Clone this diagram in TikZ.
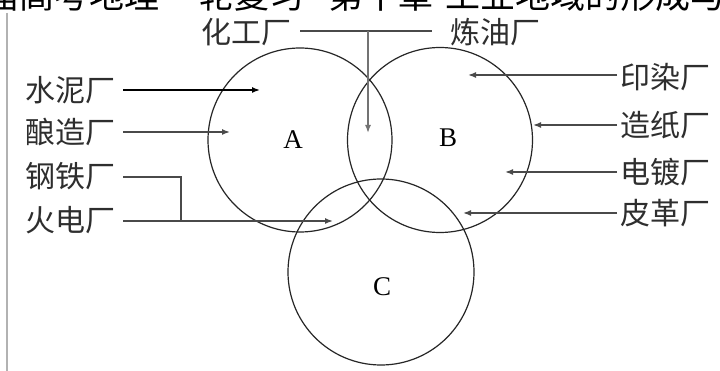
\documentclass[tikz,border=0pt]{standalone}
\usepackage{fontspec}
\setmainfont{Liberation Serif}
\newfontfamily\cjk{Noto Sans CJK SC}
\usetikzlibrary{arrows.meta}
\definecolor{txt}{HTML}{2E2E2E}
\definecolor{ln}{HTML}{4A4A4A}
\begin{document}
\begin{tikzpicture}[x=1pt,y=-1pt,
  lab/.style={inner sep=0pt,text=txt,font=\cjk\fontsize{30}{30}\selectfont},
  hdr/.style={inner sep=0pt,anchor=base west,text=black,font=\cjk\fontsize{35}{35}\selectfont},
  letter/.style={inner sep=0pt,font=\fontsize{27}{27}\selectfont},
  ring/.style={draw=black!85,line width=1.2pt},
  feed/.style={draw=ln,line width=1.5pt,-{Latex[length=8pt,width=6pt]}},
  plain/.style={draw=ln,line width=1.5pt}]
\useasboundingbox (0,0) rectangle (720,371);
\clip (0,0) rectangle (720,371);
\fill[white] (0,0) rectangle (720,371);
% cropped header
\node[hdr] (h1) at (-16,9) {届高考地理};
\node[hdr] (h2) at (164,9) {一轮复习};
\node[hdr] (h3) at (328,9) {第十章};
\node[hdr] (h4) at (445,9) {工业地域的形成与};
% left margin rule
\draw[black!30,line width=1.2pt] (7,13) -- (7,371);
% circles
\node[ring,circle,minimum size=184pt,inner sep=0pt] (A) at (300,140) {};
\node[ring,circle,minimum size=185pt,inner sep=0pt] (B) at (440,140) {};
\node[ring,circle,minimum size=186pt,inner sep=0pt] (C) at (381,272) {};
\node[letter] (la) at (293,140) {A};
\node[letter] (lb) at (448,138) {B};
\node[letter] (lc) at (382,287) {C};
% top labels
\node[lab] (hg) at (246,32) {化工厂};
\node[lab] (ly) at (495,32) {炼油厂};
\coordinate (t1) at (300,31);
\coordinate (t2) at (432,31);
\coordinate (tm) at (368,31);
\coordinate (tt) at (368,133);
\draw[plain] (t1) -- (t2);
\draw[feed,draw=black!55] (tm) -- (tt);
% left labels
\node[lab] (sn) at (70,90) {水泥厂};
\node[lab] (nz) at (70,132) {酿造厂};
\node[lab] (gt) at (70,176) {钢铁厂};
\node[lab] (hd) at (70,220) {火电厂};
\coordinate (snE) at (260,90);
\coordinate (nzE) at (230,132);
\coordinate (br) at (181,177);
\coordinate (brJ) at (181,221);
\coordinate (hdE) at (333,221);
\draw[feed,draw=black] (123,90) -- (snE);
\draw[feed] (123,132) -- (nzE);
\draw[plain] (123,177) -- (br) -- (brJ);
\draw[feed] (123,221) -- (hdE);
% right labels
\node[lab] (yr) at (665,77) {印染厂};
\node[lab] (zz) at (665,125) {造纸厂};
\node[lab] (dd) at (665,172) {电镀厂};
\node[lab] (pg) at (665,213) {皮革厂};
\coordinate (yrE) at (468,75);
\coordinate (zzE) at (533,125);
\coordinate (ddE) at (505,172);
\coordinate (pgE) at (463,213);
\draw[feed] (617,75) -- (yrE);
\draw[feed] (617,125) -- (zzE);
\draw[feed] (617,172) -- (ddE);
\draw[feed] (617,213) -- (pgE);
\end{tikzpicture}
\end{document}
